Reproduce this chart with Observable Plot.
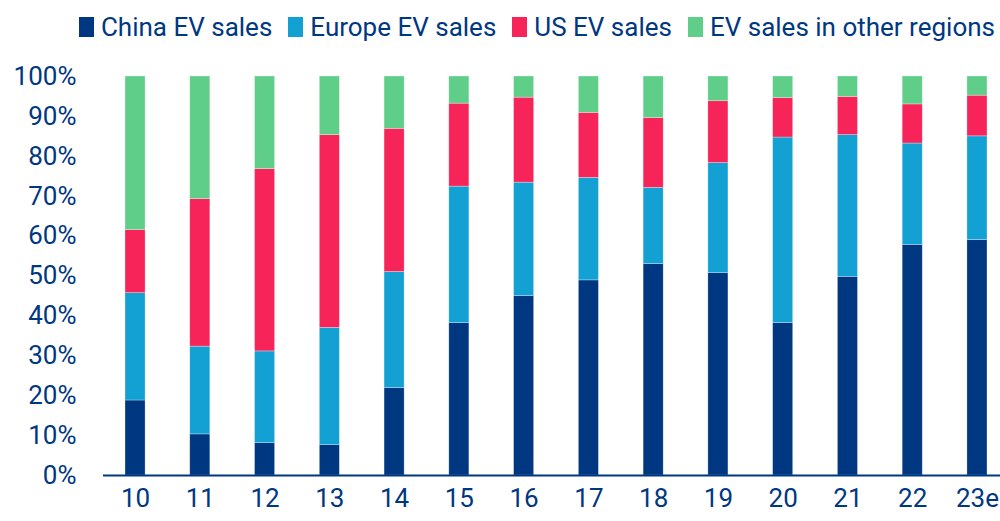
<!DOCTYPE html>
<html>
<head>
<meta charset="utf-8">
<script src="https://cdn.jsdelivr.net/npm/d3@7"></script>
<script src="https://cdn.jsdelivr.net/npm/@observablehq/plot@0.6"></script>
<style>
  html, body { margin: 0; padding: 0; background: #fff; }
  #wrap { position: relative; width: 1000px; height: 521px; font-family: Roboto, "Noto Sans", sans-serif; color: #003781; }
  #legend { position: absolute; top: 9px; right: 5px; display: flex; align-items: center; font-size: 26px; line-height: 36px; white-space: nowrap; }
  #legend .item { display: flex; align-items: center; margin-left: 16px; }
  #legend .sw { width: 15px; height: 20px; margin-right: 7px; }
  #chart { position: absolute; left: 0; top: 0; }
</style>
</head>
<body>
<div id="wrap">
  <div id="chart"></div>
  <div id="legend"></div>
</div>
<script>
const years = ["10","11","12","13","14","15","16","17","18","19","20","21","22","23e"];
const seriesNames = ["China EV sales","Europe EV sales","US EV sales","EV sales in other regions"];
const seriesColors = ["#003781","#13A0D3","#F62459","#5FCE89"];
const china  = [18.8,10.3, 8.1, 7.6,21.9,38.2,45.0,48.9,53.0,50.7,38.2,49.8,57.8,59.0];
const europe = [26.9,22.0,23.0,29.4,29.1,34.2,28.4,25.7,19.1,27.6,46.5,35.5,25.4,26.0];
const us     = [15.8,37.0,45.7,48.3,35.9,20.8,21.3,16.3,17.5,15.5, 9.9, 9.6, 9.8,10.2];
const other  = [38.5,30.7,23.2,14.7,13.1, 6.8, 5.3, 9.1,10.4, 6.2, 5.4, 5.1, 7.0, 4.8];
const yTicks = [0,10,20,30,40,50,60,70,80,90,100];

const seriesValues = [china, europe, us, other];
const data = [];
years.forEach((yr, i) => {
  seriesNames.forEach((s, j) => data.push({year: yr, series: s, value: seriesValues[j][i]}));
});

const chart = Plot.plot({
  width: 1000,
  height: 521,
  marginTop: 76,
  marginBottom: 46,
  marginLeft: 103,
  marginRight: 0,
  style: {fontFamily: "Roboto, 'Noto Sans', sans-serif", fontSize: "26px", color: "#003781", background: "#fff"},
  x: {domain: years, range: [125, 987], round: false, paddingInner: 0.69, paddingOuter: 0, label: null, tickSize: 0, tickPadding: 13},
  y: {domain: [0, 100], ticks: yTicks, tickFormat: d => d + "%", label: null, tickSize: 0, tickPadding: 27},
  color: {domain: seriesNames, range: seriesColors},
  marks: [
    Plot.barY(data, Plot.stackY({x: "year", y: "value", fill: "series", order: null, stroke: "white", strokeWidth: 0.6, strokeOpacity: 0.5})),
    Plot.ruleY([0], {stroke: "#003781", strokeWidth: 2})
  ]
});
chart.querySelectorAll("text").forEach(t => t.setAttribute("fill", "#003781"));
document.getElementById("chart").appendChild(chart);

const legend = document.getElementById("legend");
seriesNames.forEach((s, j) => {
  const item = document.createElement("div");
  item.className = "item";
  const sw = document.createElement("div");
  sw.className = "sw";
  sw.style.background = seriesColors[j];
  const label = document.createElement("span");
  label.textContent = s;
  item.appendChild(sw);
  item.appendChild(label);
  legend.appendChild(item);
});
</script>
</body>
</html>
